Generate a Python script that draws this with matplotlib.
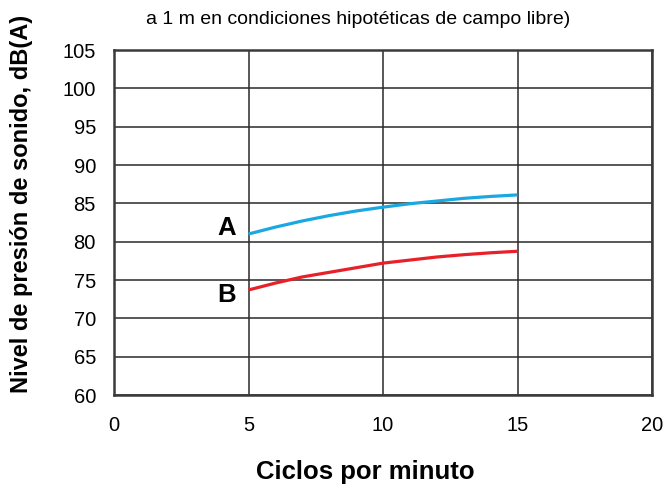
import matplotlib
matplotlib.use("Agg")
import matplotlib.pyplot as plt

plt.rcParams['font.family'] = ['Liberation Sans', 'DejaVu Sans']

cycles = [5, 6, 7, 8, 9, 10, 11, 12, 13, 14, 15]
series_a = [81.0, 81.9, 82.7, 83.4, 84.0, 84.5, 84.95, 85.3, 85.65, 85.9, 86.1]
series_b = [73.7, 74.6, 75.4, 76.0, 76.6, 77.2, 77.6, 78.0, 78.3, 78.55, 78.75]
x_ticks = [0, 5, 10, 15, 20]
y_ticks = [60, 65, 70, 75, 80, 85, 90, 95, 100, 105]
title_line = "a 1 m en condiciones hipotéticas de campo libre)"

fig = plt.figure(figsize=(6.7, 4.9), dpi=100)
ax = fig.add_axes([114/670, 1-395/490, (652-114)/670, (395-50)/490])

ax.plot(cycles, series_a, color='#1aa8e2', lw=2.3, solid_capstyle='butt')
ax.plot(cycles, series_b, color='#e8202a', lw=2.3, solid_capstyle='butt')

ax.set_xlim(0, 20)
ax.set_ylim(60, 105)
ax.set_xticks(x_ticks)
ax.set_yticks(y_ticks)
ax.grid(True, color='#2a2a2a', lw=1.1)
ax.set_axisbelow(True)
for s in ax.spines.values():
    s.set_color('#3a3a3a')
    s.set_linewidth(1.8)
ax.tick_params(length=0, labelsize=14.5, colors='black')
ax.tick_params(axis='x', pad=15)
ax.tick_params(axis='y', pad=13)

fig.text(365/670, 1-472/490, 'Ciclos por minuto', fontsize=18.5, fontweight='bold',
         ha='center', va='center')
fig.text(22/670, 1-204/490, 'Nivel de presión de sonido, dB(A)', fontsize=17,
         fontweight='bold', ha='center', va='center', rotation=90)

ax.text(4.18, 81.8, 'A', fontsize=18.5, fontweight='bold', ha='center', va='center')
ax.text(4.18, 73.0, 'B', fontsize=18.5, fontweight='bold', ha='center', va='center')

fig.text(358/670, 1-20/490, title_line, fontsize=14, ha='center', va='center')

fig.savefig('out.png', dpi=100)
